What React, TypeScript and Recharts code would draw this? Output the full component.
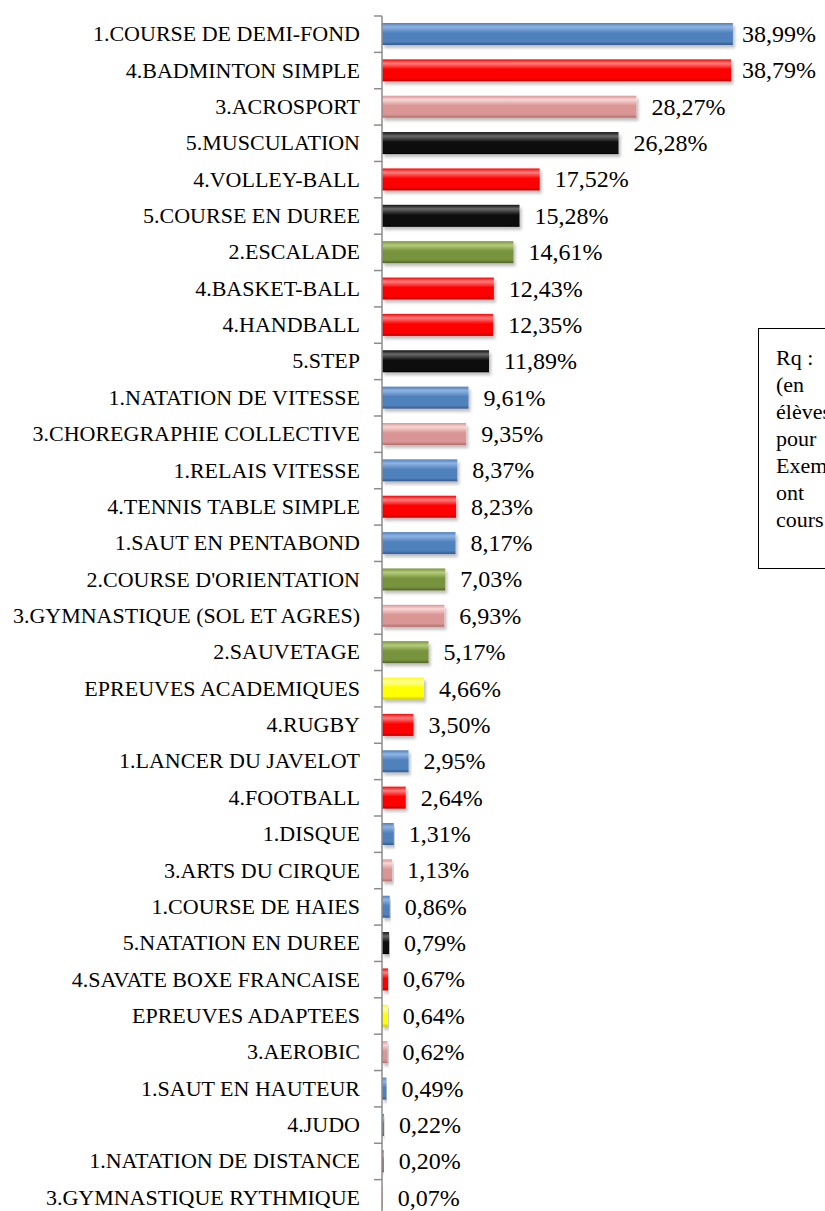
import React from 'react';
import { BarChart, Bar, XAxis, YAxis, Cell, LabelList } from 'recharts';

const categories = [
  '1.COURSE DE DEMI-FOND',
  '4.BADMINTON SIMPLE',
  '3.ACROSPORT',
  '5.MUSCULATION',
  '4.VOLLEY-BALL',
  '5.COURSE EN DUREE',
  '2.ESCALADE',
  '4.BASKET-BALL',
  '4.HANDBALL',
  '5.STEP',
  '1.NATATION DE VITESSE',
  '3.CHOREGRAPHIE COLLECTIVE',
  '1.RELAIS VITESSE',
  '4.TENNIS TABLE SIMPLE',
  '1.SAUT EN PENTABOND',
  "2.COURSE D'ORIENTATION",
  '3.GYMNASTIQUE (SOL ET AGRES)',
  '2.SAUVETAGE',
  'EPREUVES ACADEMIQUES',
  '4.RUGBY',
  '1.LANCER DU JAVELOT',
  '4.FOOTBALL',
  '1.DISQUE',
  '3.ARTS DU CIRQUE',
  '1.COURSE DE HAIES',
  '5.NATATION EN DUREE',
  '4.SAVATE BOXE FRANCAISE',
  'EPREUVES ADAPTEES',
  '3.AEROBIC',
  '1.SAUT EN HAUTEUR',
  '4.JUDO',
  '1.NATATION DE DISTANCE',
  '3.GYMNASTIQUE RYTHMIQUE',
];

const values = [
  38.99, 38.79, 28.27, 26.28, 17.52, 15.28, 14.61, 12.43, 12.35, 11.89, 9.61,
  9.35, 8.37, 8.23, 8.17, 7.03, 6.93, 5.17, 4.66, 3.5, 2.95, 2.64, 1.31, 1.13,
  0.86, 0.79, 0.67, 0.64, 0.62, 0.49, 0.22, 0.2, 0.07,
];

const groups = [
  'blue', 'red', 'pink', 'black', 'red', 'black', 'green', 'red', 'red',
  'black', 'blue', 'pink', 'blue', 'red', 'blue', 'green', 'pink', 'green',
  'yellow', 'red', 'blue', 'red', 'blue', 'pink', 'blue', 'black', 'red',
  'yellow', 'pink', 'blue', 'slate', 'brown', 'rose',
];

const noteLines = ['Rq :', '(en', 'élèves', 'pour', 'Exemple', 'ont', 'cours'];

// light / base / dark stops for the bevelled bars
const palette: Record<string, [string, string, string]> = {
  blue: ['#8fb4e3', '#4f81bd', '#36598a'],
  red: ['#ff8080', '#ff0000', '#b80000'],
  pink: ['#f8d6d5', '#d99694', '#b06d6b'],
  black: ['#6a6a6a', '#111111', '#000000'],
  green: ['#b4cc7a', '#77933c', '#4c6126'],
  yellow: ['#ffffa8', '#ffff00', '#c8c800'],
  slate: ['#9ab0cc', '#5b7ba3', '#3f5878'],
  brown: ['#c99a9a', '#9c5a5a', '#6e3a3a'],
  rose: ['#f2b0b0', '#d9706f', '#a84a4a'],
};

const data = categories.map((name, i) => ({ name, value: values[i], group: groups[i] }));

const W = 825;
const H = 1240;
const TOP = 16;
const BOTTOM = 24;
const AXIS_X = 382;
const BAND = (H - TOP - BOTTOM) / categories.length;
const FONT = '"Liberation Serif", "Times New Roman", serif';

const CategoryTick = (props: any) => {
  const { y, payload } = props;
  const i = payload.index;
  return (
    <g>
      <text x={360} y={y} dy={7} textAnchor="end" fontSize={22} fontFamily={FONT} fill="#000">
        {payload.value}
      </text>
      <line x1={AXIS_X - 8} x2={AXIS_X} y1={y - BAND / 2} y2={y - BAND / 2} stroke="#8c8c8c" strokeWidth={1.5} />
      {i === categories.length - 1 && (
        <line x1={AXIS_X - 8} x2={AXIS_X} y1={y + BAND / 2} y2={y + BAND / 2} stroke="#8c8c8c" strokeWidth={1.5} />
      )}
    </g>
  );
};

const BevelBar = (props: any) => {
  const { x, y, width, height, payload } = props;
  if (width <= 0) return null;
  return (
    <rect
      x={x}
      y={y}
      width={width}
      height={height}
      fill={`url(#g-${payload.group})`}
      filter="url(#barShadow)"
    />
  );
};

const ValueLabel = (props: any) => {
  const { x, y, width, height, value } = props;
  const end = x + width;
  const tx = Math.min(end + 15, 742);
  return (
    <text x={tx} y={y + height / 2} dy={8} fontSize={24} fontFamily={FONT} fill="#000">
      {value.toFixed(2).replace('.', ',') + '%'}
    </text>
  );
};

export default function App() {
  return (
    <div style={{ position: 'absolute', left: 0, top: 0, width: W, height: 1211, overflow: 'hidden', background: '#fff' }}>
      <div style={{ position: 'absolute', left: 0, top: 0 }}>
        <BarChart
          width={W}
          height={H}
          data={data}
          layout="vertical"
          margin={{ top: TOP, right: 38, bottom: BOTTOM, left: 0 }}
          barSize={22}
        >
          <defs>
            {Object.keys(palette).map((k) => (
              <linearGradient key={k} id={`g-${k}`} x1="0" y1="0" x2="0" y2="1">
                <stop offset="0%" stopColor={palette[k][1]} />
                <stop offset="18%" stopColor={palette[k][0]} />
                <stop offset="45%" stopColor={palette[k][1]} />
                <stop offset="85%" stopColor={palette[k][1]} />
                <stop offset="100%" stopColor={palette[k][2]} />
              </linearGradient>
            ))}
            <filter id="barShadow" x="-5%" y="-20%" width="115%" height="160%">
              <feDropShadow dx="2" dy="3" stdDeviation="1.5" floodColor="#000" floodOpacity="0.25" />
            </filter>
          </defs>
          <XAxis type="number" domain={[0, 45]} hide />
          <YAxis
            type="category"
            dataKey="name"
            width={AXIS_X}
            interval={0}
            tickLine={false}
            axisLine={{ stroke: '#8c8c8c', strokeWidth: 1.5 }}
            tick={<CategoryTick />}
          />
          <Bar dataKey="value" isAnimationActive={false} shape={<BevelBar />}>
            {data.map((d) => (
              <Cell key={d.name} fill={palette[d.group][1]} />
            ))}
            <LabelList dataKey="value" content={<ValueLabel />} />
          </Bar>
        </BarChart>
      </div>
      <div
        style={{
          position: 'absolute',
          left: 758,
          top: 328,
          width: 200,
          height: 241,
          boxSizing: 'border-box',
          border: '1.5px solid #000',
          padding: '15px 0 0 17px',
          fontFamily: FONT,
          fontSize: 22,
          lineHeight: '27px',
          color: '#000',
          background: '#fff',
        }}
      >
        {noteLines.map((t) => (
          <div key={t}>{t}</div>
        ))}
      </div>
    </div>
  );
}
